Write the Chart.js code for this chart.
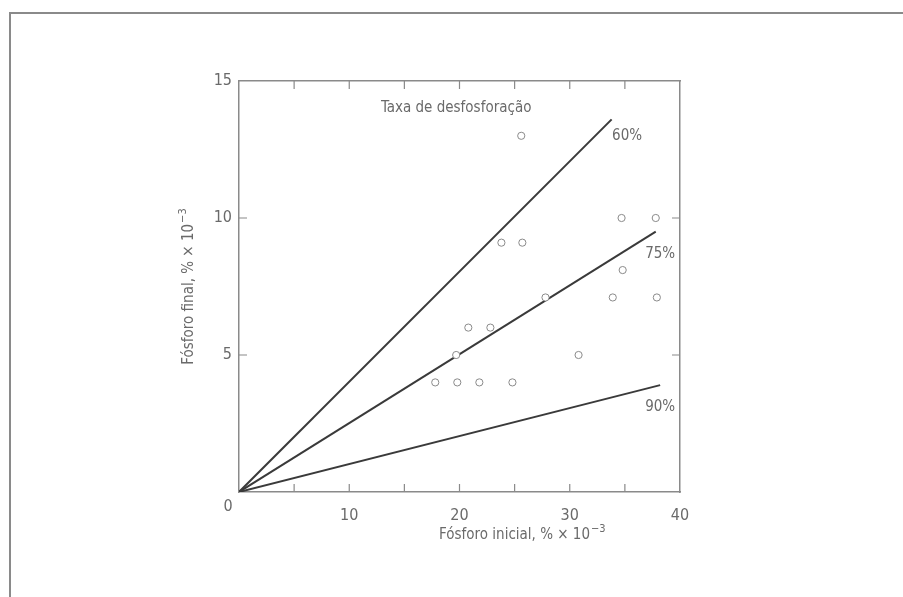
<!DOCTYPE html>
<html>
<head>
<meta charset="utf-8">
<script src="https://cdn.jsdelivr.net/npm/chart.js@4/dist/chart.umd.min.js"></script>
<style>
  html, body { margin: 0; padding: 0; background: #fff; }
  #box { position: relative; width: 903px; height: 597px; }
  #frame { position: absolute; left: 9px; top: 12px; right: 0; bottom: -4px;
    border-left: 2px solid #8a8a8a; border-top: 2px solid #8a8a8a; }
  canvas { position: absolute; left: 0; top: 0; }
</style>
</head>
<body>
<div id="box">
  <div id="frame"></div>
  <canvas id="grafico" width="903" height="597"></canvas>
</div>
<script>
let fosforo_inicial = [25.6, 23.8, 25.7, 34.7, 37.8, 34.8, 27.8, 33.9, 37.9, 20.8, 22.8, 19.7, 30.8, 17.8, 19.8, 21.8, 24.8]
let fosforo_final   = [13.0,  9.1,  9.1, 10.0, 10.0,  8.1,  7.1,  7.1,  7.1,  6.0,  6.0,  5.0,  5.0,  4.0,  4.0,  4.0,  4.0]

let taxas = ['60%', '75%', '90%']
let fim_x = [33.8, 37.8, 38.2]
let fim_y = [13.6, 9.5, 3.9]
let rotulo_x = [35.2, 38.2, 38.2]
let rotulo_y = [13.0, 8.7, 3.1]

let ticks_x = [0, 10, 20, 30, 40]
let ticks_y = [0, 5, 10, 15]

let titulo_x = 'Fósforo inicial, % × 10'
let titulo_y = 'Fósforo final, % × 10'
let expoente = '−3'

let fonte = "'Liberation Sans Narrow', 'DejaVu Sans Condensed', 'Roboto Condensed', sans-serif"
let cor_texto = '#6a6a6a'

let pontos = fosforo_inicial.map((x, i) => ({ x: x, y: fosforo_final[i] }))

let conjuntos = [{
  type: 'scatter',
  data: pontos,
  pointRadius: 3.6,
  pointBorderWidth: 1,
  pointBorderColor: '#8a8a8a',
  pointBackgroundColor: '#ffffff',
  showLine: false
}]
taxas.forEach((t, i) => {
  conjuntos.push({
    type: 'line',
    data: [{ x: 0, y: 0 }, { x: fim_x[i], y: fim_y[i] }],
    borderColor: '#3a3a3a',
    borderWidth: 2,
    pointRadius: 0,
    fill: false
  })
})

// texto com expoente, centrado em (0,0) do contexto atual
function textoExpoente(c, base, exp) {
  c.font = '15px ' + fonte
  let w1 = c.measureText(base).width
  c.font = '11px ' + fonte
  let w2 = c.measureText(exp).width
  let x0 = -(w1 + w2 + 1) / 2
  c.textAlign = 'left'
  c.textBaseline = 'middle'
  c.font = '15px ' + fonte
  c.fillText(base, x0, 0)
  c.font = '11px ' + fonte
  c.fillText(exp, x0 + w1 + 1, -6)
}

// marcas internas, rotulos, titulos e o "0" do canto
let extras = {
  id: 'extras',
  afterDraw(chart) {
    let c = chart.ctx, xs = chart.scales.x, ys = chart.scales.y
    let a = chart.chartArea
    c.save()
    c.strokeStyle = '#8a8a8a'
    c.lineWidth = 1.2
    for (let v = 5; v < 40; v += 5) {
      let px = xs.getPixelForValue(v)
      c.beginPath()
      c.moveTo(px, a.bottom); c.lineTo(px, a.bottom - 8)
      c.moveTo(px, a.top); c.lineTo(px, a.top + 8)
      c.stroke()
    }
    for (let v = 5; v < 15; v += 5) {
      let py = ys.getPixelForValue(v)
      c.beginPath()
      c.moveTo(a.left, py); c.lineTo(a.left + 8, py)
      c.moveTo(a.right, py); c.lineTo(a.right - 8, py)
      c.stroke()
    }
    c.fillStyle = cor_texto
    c.font = '15px ' + fonte
    c.textAlign = 'center'
    c.textBaseline = 'middle'
    c.fillText('Taxa de desfosforação', xs.getPixelForValue(19.7), ys.getPixelForValue(14.0))
    taxas.forEach((t, i) => {
      c.fillText(t, xs.getPixelForValue(rotulo_x[i]), ys.getPixelForValue(rotulo_y[i]))
    })
    c.font = '16px ' + fonte
    c.fillText('0', a.left - 11, a.bottom + 15)

    c.save()
    c.translate(xs.getPixelForValue(25.7), a.bottom + 43)
    textoExpoente(c, titulo_x, expoente)
    c.restore()

    c.save()
    c.translate(a.left - 50, ys.getPixelForValue(7.5))
    c.rotate(-Math.PI / 2)
    textoExpoente(c, titulo_y, expoente)
    c.restore()
    c.restore()
  }
}

var ctx = document.getElementById('grafico').getContext('2d')

var chart = new Chart(ctx, {
  data: { datasets: conjuntos },
  options: {
    responsive: false,
    animation: false,
    layout: { padding: { top: 81, right: 223, left: 0, bottom: 0 } },
    plugins: {
      legend: { display: false },
      tooltip: { enabled: false }
    },
    scales: {
      x: {
        type: 'linear',
        min: 0, max: 40,
        afterBuildTicks: s => { s.ticks = ticks_x.map(v => ({ value: v })) },
        afterFit: s => { s.height = 105 },
        grid: { display: false, drawTicks: false },
        border: { display: true, color: '#8a8a8a', width: 1.5 },
        ticks: {
          padding: 14,
          color: cor_texto,
          font: { family: fonte, size: 16 },
          callback: v => v === 0 ? '' : v
        }
      },
      y: {
        type: 'linear',
        min: 0, max: 15,
        afterBuildTicks: s => { s.ticks = ticks_y.map(v => ({ value: v })) },
        afterFit: s => { s.width = 239 },
        grid: { display: false, drawTicks: false },
        border: { display: true, color: '#8a8a8a', width: 1.5 },
        ticks: {
          padding: 7,
          color: cor_texto,
          font: { family: fonte, size: 16 },
          callback: v => v === 0 ? '' : v
        }
      },
      x2: {
        type: 'linear', position: 'top', min: 0, max: 40,
        grid: { display: false, drawTicks: false },
        border: { display: true, color: '#8a8a8a', width: 1.5 },
        ticks: { display: false },
        afterFit: s => { s.height = 0 }
      },
      y2: {
        type: 'linear', position: 'right', min: 0, max: 15,
        grid: { display: false, drawTicks: false },
        border: { display: true, color: '#8a8a8a', width: 1.5 },
        ticks: { display: false },
        afterFit: s => { s.width = 0 }
      }
    }
  },
  plugins: [extras]
})
</script>
</body>
</html>
